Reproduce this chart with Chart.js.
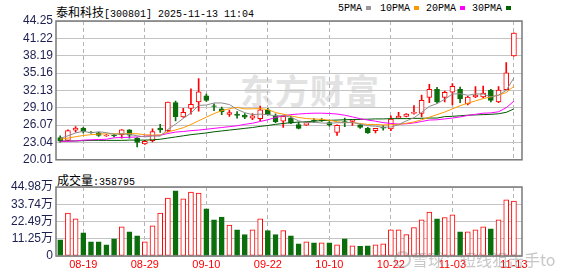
<!DOCTYPE html>
<html>
<head>
<meta charset="utf-8">
<script src="https://cdn.jsdelivr.net/npm/chart.js@4.4.1/dist/chart.umd.min.js"></script>
<style>
  body { margin: 0; background: #fff; width: 578px; height: 276px; overflow: hidden; position: relative; }
  canvas { position: absolute; left: 0; z-index: 1; }
  #main { top: 0; }
  #vol { top: 165px; }
  .txt { position: absolute; white-space: nowrap; color: #000; line-height: 12px; }
  .cn { font: 12px "Noto Sans CJK SC", sans-serif; }
  .mono { font: 10px "Liberation Mono", monospace; }
  .sq { display: inline-block; width: 5px; height: 4px; margin-left: 4px; vertical-align: 1px; }
  #mark { position: absolute; left: 240px; top: 72px; font: bold 34px "Noto Sans CJK SC"; color: #e2e2e2; z-index: 0; line-height: 36px; letter-spacing: 1px; }
  #xq { position: absolute; left: 412px; top: 250px; font: 16px "Noto Sans CJK SC"; color: rgba(130,130,130,0.45); z-index: 2; line-height: 18px; }
  #xqLogo { position: absolute; left: 394px; top: 251px; width: 13px; height: 13px; border: 2px solid rgba(130,130,130,0.4); border-radius: 50%; z-index: 2; }
</style>
</head>
<body>
<div id="mark">东方财富</div>
<div class="txt" style="left:56px;top:3px;"><span class="cn">泰和科技</span><span class="mono">[300801] 2025-11-13 11:04</span></div>
<div class="txt mono" style="left:338px;top:3px;">5PMA<span class="sq" style="background:#999"></span></div>
<div class="txt mono" style="left:380px;top:3px;">10PMA<span class="sq" style="background:#f90"></span></div>
<div class="txt mono" style="left:426px;top:3px;">20PMA<span class="sq" style="background:#f0f"></span></div>
<div class="txt mono" style="left:472px;top:3px;">30PMA<span class="sq" style="background:#006400"></span></div>
<div class="txt" id="volTitle" style="left:57px;top:171px;"></div>
<div id="xqLogo"></div>
<div id="xq">雪球：短线狙击手to</div>
<canvas id="main" width="578" height="170"></canvas>
<canvas id="vol" width="578" height="111"></canvas>
<script>
const dates = ['08-14','08-15','08-18','08-19','08-20','08-21','08-22','08-25','08-26','08-27','08-28','08-29',
  '09-01','09-02','09-03','09-04','09-05','09-08','09-09','09-10','09-11','09-12','09-15','09-16','09-17','09-18','09-19',
  '09-22','09-23','09-24','09-25','09-26','09-29','09-30',
  '10-09','10-10','10-13','10-14','10-15','10-16','10-17','10-20','10-21','10-22','10-23','10-24','10-27','10-28','10-29','10-30','10-31',
  '11-03','11-04','11-05','11-06','11-07','11-10','11-11','11-12','11-13'];
const dateTicks = ['08-19','08-29','09-10','09-22','10-10','10-22','11-03','11-13'];

const open  = [23.9,23.4,25.2,25.5,24.85,24.7,24.2,24.3,24.4,25.25,23.8,22.8,23.35,25.55,25.1,30.0,27.5,29.0,30.1,31.2,
  29.45,28.9,27.95,28.0,27.8,27.3,27.2,28.75,27.7,26.75,27.3,26.15,26.05,26.95,27.0,26.5,24.8,26.7,26.7,26.1,
  25.5,25.1,25.7,25.4,27.3,27.6,28.1,28.1,30.9,32.3,30.9,31.8,32.3,29.75,31.0,31.0,32.2,30.1,32.25,38.15];
const high  = [24.2,25.25,25.8,25.7,24.95,24.8,24.45,24.5,25.3,25.3,23.9,23.4,25.4,26.2,30.1,30.25,29.0,32.4,34.2,31.5,
  29.8,29.2,28.7,28.45,28.1,28.1,29.4,29.0,28.05,27.8,27.6,26.6,26.6,27.2,27.2,26.7,26.1,27.3,27.0,26.3,
  25.7,25.5,26.0,27.7,28.3,28.1,29.5,31.3,33.2,32.65,32.0,33.3,32.7,31.1,32.8,32.9,32.3,32.8,37.0,42.2];
const low   = [23.1,23.35,24.85,24.7,24.65,24.1,24.1,24.0,23.8,23.8,22.25,22.7,23.15,24.8,24.9,26.8,27.4,28.0,28.5,30.2,
  28.6,27.9,27.6,27.3,27.2,27.0,26.8,27.8,26.5,25.65,26.3,25.4,26.0,26.5,26.7,25.9,24.25,25.8,26.0,25.5,
  24.6,24.7,25.2,25.1,27.2,27.5,28.0,27.5,30.0,29.9,30.1,29.6,30.0,29.6,30.85,30.8,30.1,30.0,32.2,38.1];
const close = [23.25,25.1,25.55,24.95,24.75,24.25,24.3,24.2,25.25,24.3,23.05,23.25,24.95,25.25,30.1,27.55,28.3,29.7,31.9,30.4,
  29.35,28.35,28.25,27.75,27.45,27.7,28.75,27.9,26.65,27.6,26.4,25.5,26.5,26.8,26.9,26.1,26.05,26.5,26.95,25.65,
  24.7,25.5,25.55,27.1,27.65,28.0,28.3,30.4,32.3,30.1,31.8,32.85,30.7,30.95,31.3,31.65,30.4,32.2,35.2,42.15];

const ma5  = [23.75,24.2,24.7,25.0,24.72,24.91,24.75,24.47,24.54,24.45,24.21,24.0,24.16,24.15,25.32,26.23,27.24,28.18,29.52,29.58,
  29.93,29.94,29.66,28.82,28.23,27.9,27.98,27.9,27.69,27.72,27.46,26.81,26.53,26.56,26.44,26.38,26.49,26.49,26.52,26.25,
  25.97,25.86,25.7,25.73,26.14,26.8,27.36,28.3,29.34,29.82,30.58,31.49,31.55,31.28,31.52,31.49,31.0,31.3,32.15,34.32];
const ma10 = [23.6,23.8,24.05,24.25,24.4,24.5,24.55,24.55,24.55,24.58,24.56,24.38,24.32,24.35,24.88,25.22,25.62,26.17,26.83,27.45,
  28.08,28.59,28.92,29.17,28.9,28.91,28.96,28.78,28.26,27.98,27.68,27.4,27.22,27.13,27.08,26.92,26.65,26.51,26.54,26.35,
  26.18,26.18,26.1,26.13,26.2,26.39,26.61,27.0,27.45,27.9,28.35,28.9,29.45,29.9,30.3,30.7,31.0,31.3,31.75,32.88];
const ma20 = [23.25,23.25,23.3,23.45,23.5,23.55,23.6,23.85,23.9,23.95,24.0,24.15,24.25,24.3,24.6,24.85,24.95,25.1,25.2,25.35,
  25.5,25.65,25.8,25.95,26.2,26.4,26.7,27.0,27.4,27.7,27.9,28.0,28.1,28.15,28.15,28.1,28.0,27.8,27.5,27.2,
  26.95,26.75,26.5,26.35,26.25,26.3,26.45,26.7,26.95,27.0,27.15,27.3,27.5,27.75,27.95,28.15,28.2,28.4,29.1,30.26];
const ma30 = [23.25,23.3,23.3,23.35,23.4,23.4,23.4,23.4,23.4,23.45,23.45,23.45,23.5,23.6,23.8,24.0,24.2,24.4,24.55,24.7,
  24.9,25.05,25.2,25.35,25.5,25.65,25.85,26.0,26.2,26.35,26.5,26.6,26.65,26.75,26.85,26.9,26.95,27.0,27.05,27.07,
  27.1,27.15,27.15,27.2,27.2,27.2,27.25,27.25,27.3,27.3,27.55,27.6,27.7,27.8,27.85,27.9,27.95,28.05,28.3,28.9];

// volume in 万 shares, 1 = up day (red hollow), 0 = down day (green)
const volume = [10.6,28.0,24.2,15.1,9.3,9.3,7.3,11.2,19.0,15.8,13.2,9.3,19.7,28.0,37.7,42.5,37.2,41.6,41.0,30.8,
  23.6,25.4,20.1,17.1,13.9,17.1,24.2,16.5,13.9,16.5,13.2,8.0,9.3,8.6,8.6,8.6,7.3,11.2,6.7,6.3,
  6.7,7.3,8.0,17.1,17.1,13.9,18.6,23.6,28.6,24.2,25.1,26.9,15.8,15.8,17.1,19.0,17.7,23.6,36.6,35.88];
const volUp = [0,1,1,0,0,0,0,0,1,0,0,1,1,1,1,0,1,1,1,0,
  0,0,1,0,0,1,1,0,0,1,0,0,1,0,1,0,1,0,1,0,
  0,1,1,1,1,1,1,1,1,0,1,1,0,1,1,1,0,1,1,1];
const lastVolume = 358795;

const priceTicks = [20.01,23.04,26.07,29.10,32.13,35.16,38.19,41.22,44.25];
const volTicks = [0,11.25,22.49,33.74,44.98];

const RED = '#ff0000';
const GREEN = '#0b6e0b';
const xMin = -0.55, xMax = 60.05;
const tickFont = { family: '"Liberation Sans", "Noto Sans CJK SC"', size: 12 };

document.getElementById('volTitle').innerHTML =
  '<span class="cn">成交量</span><span class="mono">:' + lastVolume + '</span>';

const framePlugin = {
  id: 'frame',
  afterDraw(chart) {
    const { ctx, chartArea: a } = chart;
    ctx.save();
    ctx.strokeStyle = '#7a7a7a';
    ctx.lineWidth = 1.5;
    ctx.strokeRect(a.left, a.top, a.right - a.left, a.bottom - a.top);
    ctx.restore();
  }
};

const isUp = i => close[i] >= open[i];
const candleColor = c => isUp(c.dataIndex) ? RED : GREEN;
const dateIdx = dateTicks.map(d => dates.indexOf(d));

const xScale = (showLabels) => ({
  type: 'linear',
  min: xMin,
  max: xMax,
  bounds: 'data',
  offset: false,
  grace: 0,
  beginAtZero: false,
  afterDataLimits: s => { s.min = xMin; s.max = xMax; },
  afterBuildTicks: s => { s.ticks = dateIdx.map(v => ({ value: v })); },
  afterFit: s => { s.height = showLabels ? 20 : 0; },
  ticks: {
    display: showLabels,
    autoSkip: false,
    maxRotation: 0,
    padding: 2,
    color: RED,
    font: { family: '"Liberation Sans"', size: 11 },
    callback: v => dates[v]
  },
  grid: { color: '#b4b4b4', drawTicks: false, offset: false },
  border: { display: false, dash: [4, 3] }
});

const yScale = (lo, hi, tickVals, fmt) => ({
  min: lo,
  max: hi,
  afterBuildTicks: s => { s.ticks = tickVals.map(v => ({ value: v })); },
  afterFit: s => { s.width = 56; },
  ticks: { autoSkip: false, padding: 3, color: '#1c2050', font: tickFont, callback: fmt },
  grid: { color: '#c4c4c4', drawTicks: false },
  border: { display: false }
});

const maLine = (data, color) => ({
  type: 'line',
  data: data.map((v, i) => ({ x: i, y: v })),
  borderColor: color,
  borderWidth: 1,
  pointRadius: 0,
  tension: 0
});

new Chart(document.getElementById('main'), {
  type: 'bar',
  data: {
    datasets: [
      maLine(ma5, '#8c8c8c'),
      maLine(ma10, '#ff9900'),
      maLine(ma20, '#ff00ff'),
      maLine(ma30, '#005a00'),
      {
        // candle bodies
        data: open.map((o, i) => ({ x: i, y: [o, close[i]] })),
        barThickness: 5,
        grouped: false,
        borderSkipped: false,
        borderWidth: 1,
        borderColor: candleColor,
        backgroundColor: c => isUp(c.dataIndex) ? '#ffffff' : GREEN
      },
      {
        // wicks
        data: low.map((l, i) => ({ x: i, y: [l, high[i]] })),
        barThickness: 1,
        grouped: false,
        borderWidth: 0,
        backgroundColor: candleColor
      }
    ]
  },
  options: {
    responsive: false,
    animation: false,
    layout: { padding: { top: 21, right: 56, bottom: 4.5, left: 0 } },
    plugins: { legend: { display: false }, tooltip: { enabled: false } },
    scales: {
      x: xScale(false),
      y: yScale(20.01, 44.25, priceTicks, v => v.toFixed(2))
    }
  },
  plugins: [framePlugin]
});

new Chart(document.getElementById('vol'), {
  type: 'bar',
  data: {
    datasets: [{
      data: volume.map((v, i) => ({ x: i, y: v })),
      barThickness: 5,
      grouped: false,
      borderSkipped: false,
      borderWidth: 1,
      borderColor: c => volUp[c.dataIndex] ? RED : GREEN,
      backgroundColor: c => volUp[c.dataIndex] ? '#ffffff' : GREEN
    }]
  },
  options: {
    responsive: false,
    animation: false,
    layout: { padding: { top: 22, right: 56, bottom: 0, left: 0 } },
    plugins: { legend: { display: false }, tooltip: { enabled: false } },
    scales: {
      x: xScale(true),
      y: yScale(0, 44.98, volTicks, v => v === 0 ? '0' : v.toFixed(2) + '万')
    }
  },
  plugins: [framePlugin]
});
</script>
</body>
</html>
